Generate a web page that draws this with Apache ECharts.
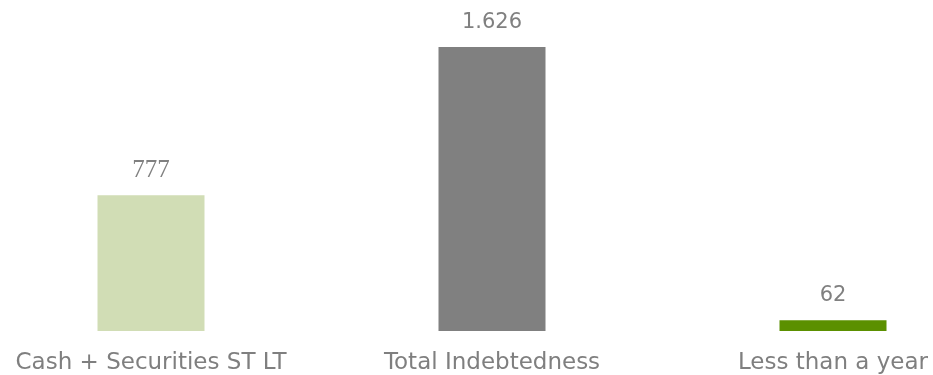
<!DOCTYPE html>
<html>
<head>
<meta charset="utf-8">
<script src="https://cdn.jsdelivr.net/npm/echarts@6/dist/echarts.min.js"></script>
<style>
  html, body { margin: 0; padding: 0; background: #ffffff; }
  #chart { width: 933px; height: 375px; }
</style>
</head>
<body>
<div id="chart"></div>
<script>
// Categories and values
const categories = ['Cash + Securities ST LT', 'Total Indebtedness', 'Less than a year'];
const values = [777, 1626, 62];
const valueLabels = ['777', '1.626', '62'];
const barColors = ['#d1ddb5', '#808080', '#5b9000'];

const chart = echarts.init(document.getElementById('chart'));

const data = values.map((v, i) => ({
  value: v,
  itemStyle: { color: barColors[i] },
  label: i === 0 ? { fontFamily: 'Liberation Serif', fontSize: 25, distance: 12 } : {}
}));

chart.setOption({
  animation: false,
  grid: {
    left: -19.5, right: -70.5, top: 47, bottom: 44,
    containLabel: false,
    outerBoundsMode: 'none'
  },
  xAxis: {
    type: 'category',
    data: categories,
    axisLine: { show: false },
    axisTick: { show: false },
    axisLabel: {
      interval: 0,
      color: '#7f7f7f',
      fontFamily: 'DejaVu Sans',
      fontSize: 23,
      margin: 21,
      hideOverlap: false
    }
  },
  yAxis: {
    type: 'value',
    min: 0,
    max: 1626,
    show: false,
    splitLine: { show: false }
  },
  series: [{
    type: 'bar',
    data: data,
    barWidth: 107,
    label: {
      show: true,
      position: 'top',
      distance: 14,
      color: '#808080',
      fontFamily: 'DejaVu Sans',
      fontSize: 21,
      formatter: p => valueLabels[p.dataIndex]
    }
  }]
});
</script>
</body>
</html>
